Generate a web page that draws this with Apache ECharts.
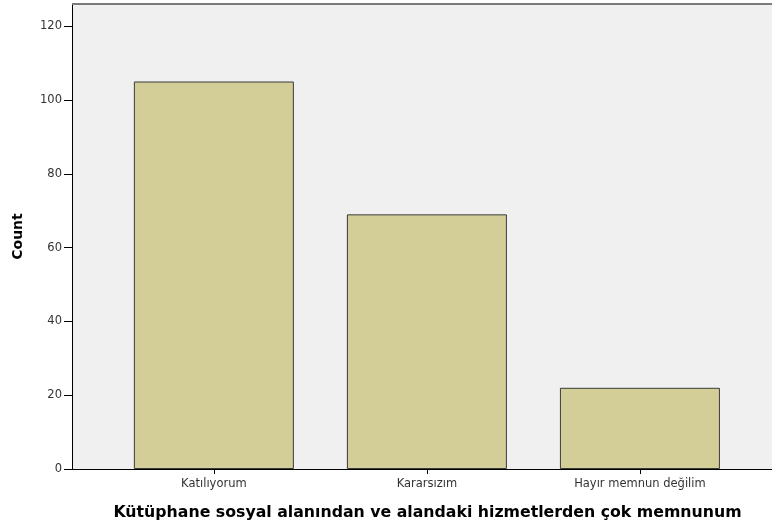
<!DOCTYPE html>
<html><head><meta charset="utf-8">
<script src="https://cdn.jsdelivr.net/npm/echarts@6/dist/echarts.min.js"></script>
<style>html,body{margin:0;padding:0;background:#fff}#c{width:772px;height:526px}</style>
</head><body><div id="c"></div>
<script>
var categories = ["Katılıyorum", "Kararsızım", "Hayır memnun değilim"];
var counts = [105, 69, 22];
var yTicks = [0, 20, 40, 60, 80, 100, 120];
var xTitle = "Kütüphane sosyal alanından ve alandaki hizmetlerden çok memnunum";
var yTitle = "Count";

var chart = echarts.init(document.getElementById('c'), null, {renderer: 'canvas'});
var F = '"DejaVu Sans", Verdana, sans-serif';
chart.setOption({
  animation: false,
  grid: {left: 72, right: 0, top: 4, bottom: 54, show: true, backgroundColor: '#f0f0f0', borderWidth: 0},
  xAxis: {
    type: 'value', min: -0.666, max: 2.62,
    name: xTitle, nameLocation: 'middle', nameGap: 36,
    nameTextStyle: {fontFamily: F, fontWeight: 'bold', fontSize: 15.75, color: '#000', padding: [0, 0, 0, 11]},
    axisLine: {show: true, onZero: false, lineStyle: {color: '#000', width: 1}},
    axisTick: {show: true, length: 5, inside: false, customValues: [0, 1, 2], lineStyle: {color: '#000'}},
    axisLabel: {customValues: [0, 1, 2], margin: 9, fontFamily: F, fontSize: 11.5, color: '#333',
      formatter: function (v) { return categories[Math.round(v)] || ''; }},
    splitLine: {show: false}
  },
  yAxis: {
    type: 'value', min: 0, max: 126,
    name: yTitle, nameLocation: 'middle', nameGap: 47,
    nameTextStyle: {fontFamily: F, fontWeight: 'bold', fontSize: 14, color: '#000'},
    axisLine: {show: true, onZero: false, lineStyle: {color: '#000', width: 1}},
    axisTick: {show: true, length: 8, customValues: yTicks, lineStyle: {color: '#000'}},
    axisLabel: {customValues: yTicks, margin: 10, fontFamily: F, fontSize: 11.5, color: '#333'},
    splitLine: {show: false}
  },
  series: [{
    type: 'bar',
    data: counts.map(function (c, i) { return [i, c]; }),
    barWidth: 160,
    itemStyle: {color: '#d3ce97', borderColor: '#3a3a3a', borderWidth: 1},
    silent: true
  }, {
    type: 'line', data: [], markLine: {
      silent: true, symbol: 'none', label: {show: false},
      lineStyle: {color: '#7a7a7a', width: 2, type: 'solid'},
      data: [{yAxis: 126}]
    }
  }]
});
</script></body></html>
